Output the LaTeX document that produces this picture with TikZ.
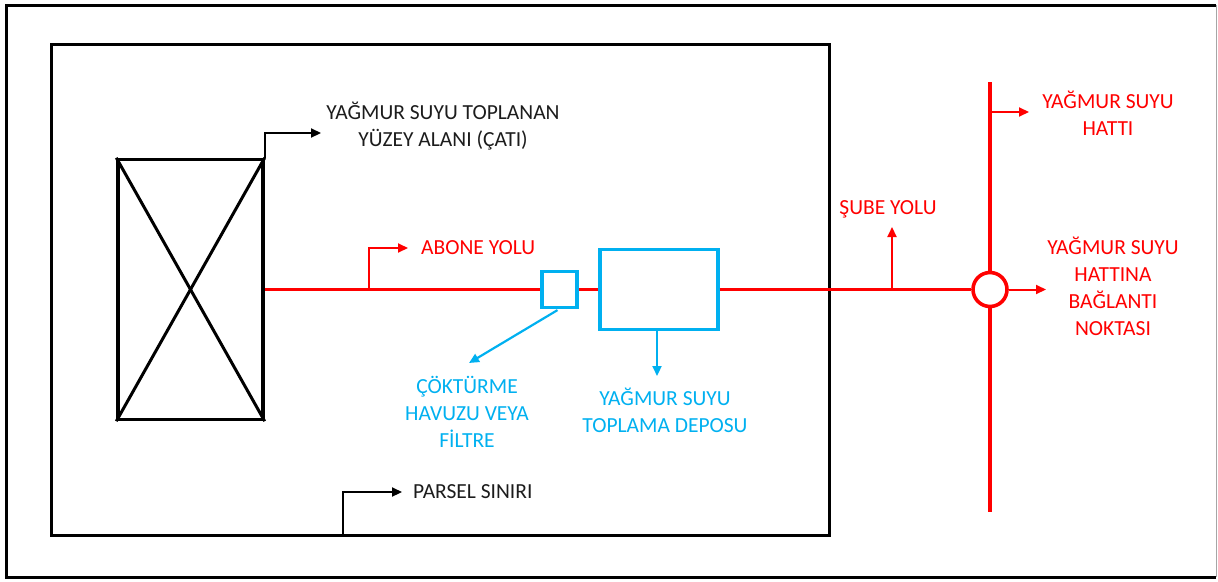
\documentclass[tikz,border=0pt]{standalone}
\usepackage{fontspec}
\setmainfont{Carlito}
\usetikzlibrary{arrows.meta}
\definecolor{myred}{RGB}{255,0,0}
\definecolor{myblue}{RGB}{0,176,240}
\definecolor{txt}{RGB}{28,28,28}
\begin{document}
\begin{tikzpicture}[x=1pt,y=-1pt,
  lbl/.style={font=\fontsize{21.5}{27}\selectfont, align=center, inner sep=0pt},
  box/.style={draw, line width=3.4pt, inner sep=0pt},
  redline/.style={draw=myred, line width=3.6pt},
  bluebox/.style={draw=myblue, line width=3.2pt, inner sep=0pt},
  tip/.style={-{Triangle[length=10pt,width=9pt]}},
  blackarrow/.style={draw=black, line width=2.2pt, tip},
  redarrow/.style={draw=myred, line width=2pt, tip},
  bluearrow/.style={draw=myblue, line width=2.2pt, tip},
  ]
\useasboundingbox (0,0) rectangle (1218,581);
% outer frame
\draw[line width=3pt] (1216,5) -- (6,5) -- (6,577) -- (1216,577);
\draw[line width=1pt, black!35] (1216,5) -- (1216,577);

% parcel boundary
\node[box, minimum width=778pt, minimum height=491pt, anchor=north west] (parcel) at (50,43) {};

% roof
\node[box, minimum width=145pt, minimum height=260pt] (roof) at (190.5,289.5) {};
\draw[line width=3pt] (roof.north west) -- (roof.south east);
\draw[line width=3pt] (roof.north east) -- (roof.south west);

% filter and tank
\node[bluebox, minimum width=35pt, minimum height=36pt] (filter) at (559.5,289.5) {};
\node[bluebox, minimum width=118pt, minimum height=80pt] (tank) at (659,289.5) {};

% connection point
\node[draw=myred, line width=3.6pt, circle, minimum size=34pt, inner sep=0pt] (joint) at (990,289.5) {};

% main red line
\draw[redline] (roof.east) -- (filter.west);
\draw[redline] (filter.east) -- (tank.west);
\draw[redline] (tank.east) -- (joint.west);
\coordinate (vtop) at (990,82);
\coordinate (vbot) at (990,512);
\draw[redline] (vtop) -- (joint.north);
\draw[redline] (joint.south) -- (vbot);

% roof label
\coordinate (roofend) at (321,133);
\draw[blackarrow] (roof.north east) |- (roofend);
\node[lbl, text=txt] (rooflbl) at (443,126) {YAĞMUR SUYU TOPLANAN\\YÜZEY ALANI (ÇATI)};

% abone yolu
\coordinate (ab1) at (369,289.5);
\coordinate (ab2) at (408,248);
\draw[redarrow] (ab1) |- (ab2);
\node[lbl, text=myred, anchor=west] (ablbl) at (421,248) {ABONE YOLU};

% filter label
\path (filter.south) ++(-2,1) coordinate (filstart);
\coordinate (filend) at (469,363);
\draw[bluearrow] (filstart) -- (filend);
\node[lbl, text=myblue] (fillbl) at (467,412) {ÇÖKTÜRME\\HAVUZU VEYA\\FİLTRE};

% tank label
\path (tank.south) ++(-2,0) coordinate (tankstart);
\coordinate (tankend) at (657,376);
\draw[bluearrow] (tankstart) -- (tankend);
\node[lbl, text=myblue] (tanklbl) at (665,410) {YAĞMUR SUYU\\TOPLAMA DEPOSU};

% sube yolu
\coordinate (sb1) at (892,289.5);
\coordinate (sb2) at (892,227);
\draw[redarrow] (sb1) -- (sb2);
\node[lbl, text=myred] (sblbl) at (888,209) {ŞUBE YOLU};

% yagmur suyu hatti
\coordinate (ht1) at (990,112);
\coordinate (ht2) at (1029,112);
\draw[redarrow] (ht1) -- (ht2);
\node[lbl, text=myred] (htlbl) at (1108,113) {YAĞMUR SUYU\\HATTI};

% connection label
\coordinate (jend) at (1046,289.5);
\draw[redarrow] (joint.east) -- (jend);
\node[lbl, text=myred] (jlbl) at (1113,286) {YAĞMUR SUYU\\HATTINA\\BAĞLANTI\\NOKTASI};

% parsel siniri
\coordinate (ps1) at (343,534);
\coordinate (ps2) at (402,492);
\draw[blackarrow] (ps1) |- (ps2);
\node[lbl, text=txt, anchor=west] (pslbl) at (413,492) {PARSEL SINIRI};
\end{tikzpicture}
\end{document}
